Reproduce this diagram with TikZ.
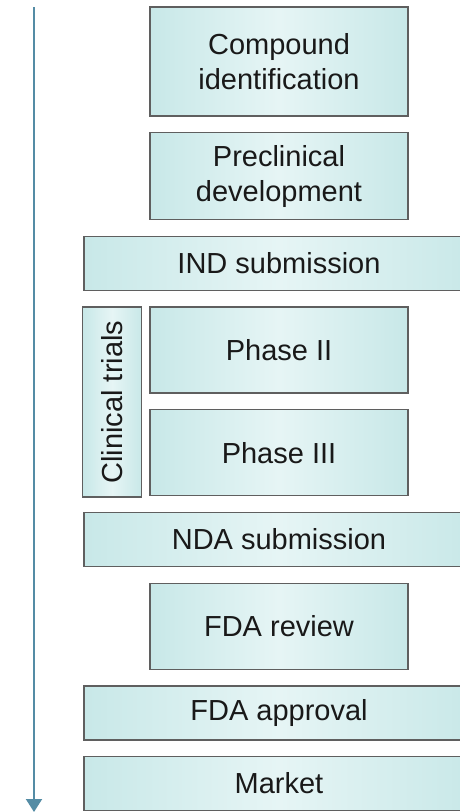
\documentclass[tikz,border=0pt]{standalone}
\usepackage{fontspec}
\setmainfont{Liberation Sans}
\usepackage{tikz}
\usetikzlibrary{arrows.meta,positioning}
\definecolor{boxfill}{RGB}{200,232,232}
\definecolor{boxmid}{RGB}{230,245,245}
\definecolor{boxline}{RGB}{95,95,95}
\definecolor{timeblue}{RGB}{84,140,165}
\definecolor{textdark}{RGB}{25,25,25}

\begin{document}
\begin{tikzpicture}[x=1pt,y=1pt,node distance=15.4pt]
  \tikzstyle{stepbox}=[rectangle,draw=boxline,line width=1.3pt,left color=boxfill,right color=boxfill,middle color=boxmid,align=center,text=textdark,font=\fontsize{29}{35}\selectfont]
  \tikzstyle{narrowbox}=[stepbox,minimum width=258pt]
  \tikzstyle{widebox}=[stepbox,minimum width=390pt,minimum height=54pt]
  \tikzstyle{timeline}=[draw=timeblue,line width=2pt,-{Triangle[length=13pt,width=16pt]}]

  \useasboundingbox (0,0) rectangle (460,-812);

  \node[narrowbox,minimum height=109pt] (compound) at (279,-61.5) {Compound\\identification};
  \node[narrowbox,minimum height=87pt,below=of compound] (preclin) {Preclinical\\development};
  \node[widebox,below=of preclin] (ind) {IND submission};
  \node[narrowbox,minimum height=86pt,below=of ind] (phase2) {Phase II};
  \node[narrowbox,minimum height=86pt,below=of phase2] (phase3) {Phase III};
  \node[stepbox,minimum width=59pt,minimum height=190pt,anchor=north east] (trials) at ([xshift=-7pt]phase2.north west) {\rotatebox{90}{Clinical trials}};
  \node[widebox,below=of phase3] (nda) {NDA submission};
  \node[narrowbox,minimum height=86pt,below=of nda] (review) {FDA review};
  \node[widebox,below=of review] (approval) {FDA approval};
  \node[widebox,below=of approval] (market) {Market};

  \coordinate (tstart) at (34,-7);
  \coordinate (tend) at (34,-812);
  \draw[timeline] (tstart) -- (tend);
\end{tikzpicture}
\end{document}
